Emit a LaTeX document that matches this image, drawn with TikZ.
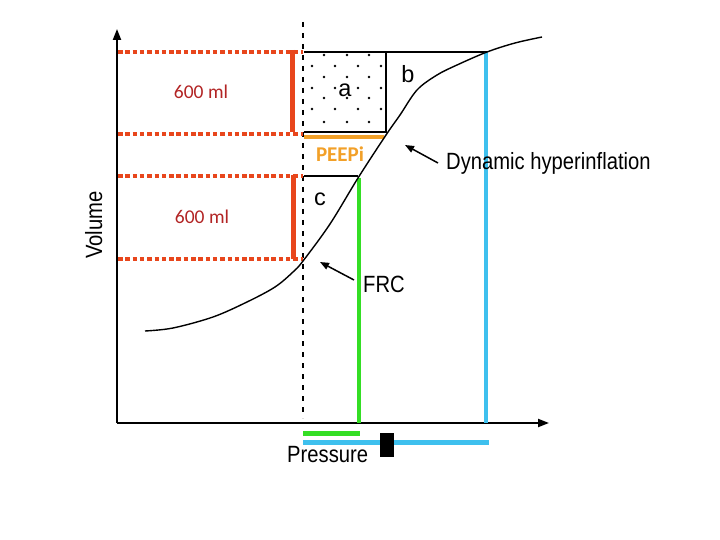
\documentclass[tikz,border=0pt]{standalone}
\usepackage{fontspec}
\usepackage{graphicx}
\setmainfont{Liberation Sans}
\newfontfamily\calfont{Carlito}
\usetikzlibrary{arrows.meta}
\definecolor{redc}{RGB}{232,70,28}
\definecolor{darkredc}{RGB}{178,36,36}
\definecolor{orangec}{RGB}{242,160,40}
\definecolor{greenc}{RGB}{52,222,36}
\definecolor{bluec}{RGB}{62,192,238}
\tikzset{
  reddot/.style={draw=redc, line width=4pt, dash pattern=on 4.5pt off 2.8pt},
  redbar/.style={draw=redc, line width=5pt},
  thinline/.style={draw=black, line width=1.3pt},
  axisline/.style={draw=black, line width=2pt, -{Triangle[length=11pt,width=8pt]}},
  vdash/.style={draw=black, line width=2.5pt, dash pattern=on 5pt off 6pt},
  curveline/.style={draw=black, line width=1.4pt},
  arr/.style={draw=black, line width=1.5pt, -{Triangle[length=9pt,width=7pt]}},
  lbl/.style={font=\fontsize{23.5}{26}\selectfont, inner sep=0pt},
  mlbl/.style={font=\calfont\fontsize{19.5}{22}\selectfont, text=darkredc, inner sep=0pt},
  plbl/.style={font=\calfont\bfseries\fontsize{21}{24}\selectfont, text=orangec, inner sep=0pt},
  greenl/.style={draw=greenc, line width=4pt},
  bluel/.style={draw=bluec, line width=4pt},
  dotmark/.style={fill=black, circle, inner sep=0pt, minimum size=2.8pt}
}
\begin{document}
\begin{tikzpicture}[x=1pt,y=-1pt]
\useasboundingbox (0,0) rectangle (720,540);
% axes
\coordinate (O) at (117,423);
\coordinate (ytop) at (117,29);
\coordinate (xend) at (549,423);
\draw[axisline] (O) -- (ytop);
\draw[axisline] (O) -- (xend);
% dashed vertical
\coordinate (dtop) at (303,22);
\coordinate (dbot) at (303,418);
\draw[vdash] (dtop) -- (dbot);
% red dotted lines
\coordinate (r1a) at (118,52); \coordinate (r1b) at (303,52);
\coordinate (r2a) at (118,134); \coordinate (r2b) at (303,134);
\coordinate (r3a) at (118,176); \coordinate (r3b) at (303,176);
\coordinate (r4a) at (118,259); \coordinate (r4b) at (303,259);
\draw[reddot] (r1a) -- (r1b);
\draw[reddot] (r2a) -- (r2b);
\draw[reddot] (r3a) -- (r3b);
\draw[reddot] (r4a) -- (r4b);
% red bars
\coordinate (b1t) at (292,50); \coordinate (b1b) at (292,132);
\coordinate (b2t) at (293,175); \coordinate (b2b) at (293,259);
\draw[redbar] (b1t) -- (b1b);
\draw[redbar] (b2t) -- (b2b);
% box a and lines
\coordinate (ta) at (304,52); \coordinate (tb) at (487,52);
\coordinate (ar) at (386,52); \coordinate (arb) at (386,132);
\coordinate (al) at (304,132);
\coordinate (cl) at (304,176); \coordinate (cr) at (358,176);
\draw[thinline] (ta) -- (tb);
\draw[thinline] (ar) -- (arb) -- (al);
\draw[thinline] (cl) -- (cr);
% dots in box a
\foreach \yy in {55,77,98,122} {
  \foreach \xx in {324,347,369} {
    \node[dotmark] at (\xx,\yy) {};
  }
}
\foreach \yy in {66,88,109} {
  \foreach \xx in {312,335,358,381} {
    \node[dotmark] at (\xx,\yy) {};
  }
}
% orange line
\coordinate (o1) at (304,137); \coordinate (o2) at (384,137);
\draw[draw=orangec, line width=4pt] (o1) -- (o2);
% green and blue
\coordinate (g1) at (359,178); \coordinate (g2) at (359,423);
\draw[greenl] (g1) -- (g2);
\coordinate (gh1) at (303,433); \coordinate (gh2) at (360,433);
\draw[draw=greenc, line width=5pt] (gh1) -- (gh2);
\coordinate (bl1) at (486,52); \coordinate (bl2) at (486,423);
\draw[bluel] (bl1) -- (bl2);
\coordinate (bh1) at (303,442); \coordinate (bh2) at (489,442);
\draw[draw=bluec, line width=5pt] (bh1) -- (bh2);
% black square
\fill[black] (380,433) rectangle (394,457);
% curve
\draw[curveline] plot[smooth, tension=0.55] coordinates {(145,331) (173,328) (213,317) (247,302) (275,287) (293,272) (303,261) (330,224) (358,178) (386,135) (400,115) (417,90) (437,75) (457,65) (487,52) (515,43) (542,37)};
% labels
\node[mlbl, anchor=base] (ml1) at (201,99) {600 ml};
\node[mlbl, anchor=base] (ml2) at (202,224) {600 ml};
\node[plbl, anchor=base] (peep) at (340,162) {PEEPi};
\node[lbl, anchor=base] (la) at (345,97) {a};
\node[lbl, anchor=base] (lb) at (408,83) {b};
\node[lbl, anchor=base] (lc) at (320,206) {c};
\node[lbl, anchor=base west] (dh) at (446,170) {\scalebox{0.86}[1]{Dynamic hyperinflation}};
\node[lbl, anchor=base west] (frc) at (363,292) {\scalebox{0.86}[1]{FRC}};
\node[lbl, anchor=base west] (pr) at (287,462) {\scalebox{0.86}[1]{Pressure}};
\node[lbl, anchor=base, rotate=90] (vol) at (102,225) {\scalebox{0.86}[1]{Volume}};
% arrows
\coordinate (dhtail) at (438,163); \coordinate (dhtip) at (405,145);
\coordinate (frctail) at (354,280); \coordinate (frctip) at (320,262);
\draw[arr] (dhtail) -- (dhtip);
\draw[arr] (frctail) -- (frctip);
\end{tikzpicture}
\end{document}
